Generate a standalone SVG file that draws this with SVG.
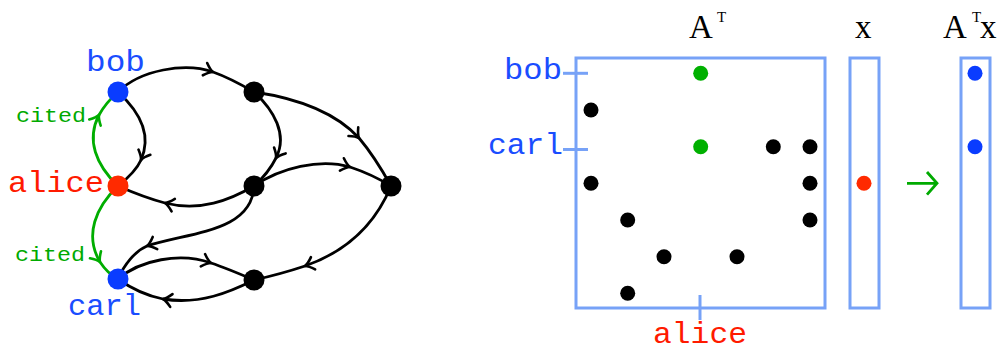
<svg xmlns="http://www.w3.org/2000/svg" width="1004" height="350" viewBox="0 0 1004 350">
<style>
.e{fill:none;stroke:#000;stroke-width:2.8;marker-mid:url(#ah)}
.g{fill:none;stroke:#00ad00;stroke-width:2.8;marker-mid:url(#ahg)}
.mono{font-family:"Liberation Mono","Courier New",monospace}
.serif{font-family:"Liberation Serif","Times New Roman",serif;fill:#000}
.blue{fill:#1a4dff}
.red{fill:#ff1a00}
.green{fill:#00aa00}
.box{fill:none;stroke:#77a2f7;stroke-width:3}
.tick{stroke:#77a2f7;stroke-width:3}
.k{fill:#000}
</style>
<defs>
<marker id="ah" markerUnits="userSpaceOnUse" markerWidth="24" markerHeight="24" viewBox="-12 -12 24 24" refX="0" refY="0" orient="auto">
<path d="M-8.5,-6.5 Q-3.5,-1.2 0,0 Q-3.5,1.2 -8.5,6.5" fill="none" stroke="#000" stroke-width="2.6" stroke-linecap="round" stroke-linejoin="round"/>
</marker>
<marker id="ahg" markerUnits="userSpaceOnUse" markerWidth="24" markerHeight="24" viewBox="-12 -12 24 24" refX="0" refY="0" orient="auto">
<path d="M-8.5,-6.5 Q-3.5,-1.2 0,0 Q-3.5,1.2 -8.5,6.5" fill="none" stroke="#00ad00" stroke-width="2.6" stroke-linecap="round" stroke-linejoin="round"/>
</marker>
</defs>
<rect width="1004" height="350" fill="#fff"/>

<g id="connectors">
<path class="e" d="M118,92 C140,70 185,62 213,72 C230,78 242,85 254,92"/>
<path class="e" d="M118,92 C140,112 152,135 141,160 C136.6,170 128,178 118,186"/>
<path class="g" d="M118,186 C96,165 86,140 99,115 C104,106 110,99 118,92"/>
<path class="g" d="M118,186 C96,207 84,235 100,262 C106,271 112,276 118,279"/>
<path class="e" d="M254,92 C274,110 288,135 276,158 C271,168 263,178 254,186"/>
<path class="e" d="M254,92 C295,98 335,112 359,138 C370,151 381,168 391,186"/>
<path class="e" d="M254,186 C280,168 320,158 350,167 C365,172 378,178 391,186"/>
<path class="e" d="M254,186 C230,200 200,212 165,203 C150,199 134,193 118,186"/>
<path class="e" d="M254,186 C252,232 190,232 147,246 C135,251 124,265 118,279"/>
<path class="e" d="M391,186 C375,225 345,252 305,266 C290,271 272,276 254,280"/>
<path class="e" d="M118,279 C140,260 180,252 211,263 C226,268 240,274 254,280"/>
<path class="e" d="M254,280 C230,292 200,305 163,299 C148,296 132,289 118,279"/>
</g>

<g id="node-bob"><circle cx="118" cy="92" r="10.5" fill="#0a3cff"/><text class="mono blue" x="86" y="71" font-size="30" textLength="59" lengthAdjust="spacingAndGlyphs">bob</text></g>
<g id="node-alice"><circle cx="118" cy="186" r="10.5" fill="#ff2a00"/><text class="mono red" x="8" y="192" font-size="30" textLength="96" lengthAdjust="spacingAndGlyphs">alice</text></g>
<g id="node-carl"><circle cx="118" cy="279" r="10.5" fill="#0a3cff"/><text class="mono blue" x="68" y="315" font-size="30" textLength="73" lengthAdjust="spacingAndGlyphs">carl</text></g>
<g id="node-n1"><circle cx="254" cy="92" r="10.5" fill="#000"/></g>
<g id="node-n2"><circle cx="254" cy="186" r="10.5" fill="#000"/></g>
<g id="node-n3"><circle cx="391" cy="186" r="10.5" fill="#000"/></g>
<g id="node-n4"><circle cx="254" cy="280" r="10.5" fill="#000"/></g>
<g id="label-cited1"><text class="mono green" x="16" y="122" font-size="21" textLength="70" lengthAdjust="spacingAndGlyphs">cited</text></g>
<g id="label-cited2"><text class="mono green" x="15" y="261" font-size="21" textLength="70" lengthAdjust="spacingAndGlyphs">cited</text></g>

<g id="matrix-AT">
<rect class="box" x="576" y="58" width="249" height="250"/>
<line class="tick" x1="563" y1="73.3" x2="588" y2="73.3"/>
<line class="tick" x1="563" y1="149.5" x2="588" y2="149.5"/>
<line class="tick" x1="700" y1="295" x2="700" y2="320"/>
<text class="mono blue" x="504" y="79" font-size="30" textLength="58" lengthAdjust="spacingAndGlyphs">bob</text>
<text class="mono blue" x="488" y="154" font-size="30" textLength="75" lengthAdjust="spacingAndGlyphs">carl</text>
<text class="mono red" x="653" y="343" font-size="30" textLength="94" lengthAdjust="spacingAndGlyphs">alice</text>
<text class="serif" x="689" y="37.5" font-size="33">A</text>
<text class="serif" x="717" y="22" font-size="15">T</text>
<circle cx="700.7" cy="73.3" r="7.5" fill="#00b000"/>
<circle cx="591" cy="110" r="7.5" class="k"/>
<circle cx="700.7" cy="146.7" r="7.5" fill="#00b000"/>
<circle cx="773.3" cy="146.7" r="7.5" class="k"/>
<circle cx="810" cy="146.7" r="7.5" class="k"/>
<circle cx="591" cy="183.3" r="7.5" class="k"/>
<circle cx="810" cy="183.3" r="7.5" class="k"/>
<circle cx="627.7" cy="220" r="7.5" class="k"/>
<circle cx="810" cy="220" r="7.5" class="k"/>
<circle cx="664" cy="256.7" r="7.5" class="k"/>
<circle cx="737" cy="256.7" r="7.5" class="k"/>
<circle cx="627.7" cy="293.3" r="7.5" class="k"/>
</g>

<g id="vector-x">
<rect class="box" x="850" y="58" width="29" height="250"/>
<text class="serif" x="855" y="37.5" font-size="33">x</text>
<circle cx="864" cy="183.3" r="7.5" fill="#ff2a00"/>
</g>

<g id="arrow-green">
<path d="M907,183.3 H936 M927,172 L937,183.3 L927,194.6" fill="none" stroke="#00aa00" stroke-width="2.8"/>
</g>

<g id="vector-ATx">
<rect class="box" x="961" y="58" width="29" height="250"/>
<text class="serif" x="943" y="37.5" font-size="33">A</text>
<text class="serif" x="972" y="22" font-size="15">T</text>
<text class="serif" x="980" y="37.5" font-size="33">x</text>
<circle cx="975" cy="73.3" r="7.5" fill="#0a3cff"/>
<circle cx="975" cy="146.7" r="7.5" fill="#0a3cff"/>
</g>
</svg>
